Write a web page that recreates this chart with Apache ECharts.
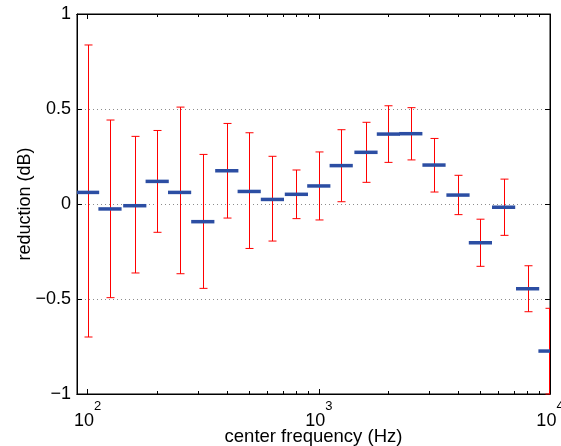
<!DOCTYPE html>
<html>
<head>
<meta charset="utf-8">
<script src="https://cdn.jsdelivr.net/npm/echarts@6/dist/echarts.min.js"></script>
<style>
    html, body { margin: 0; padding: 0; background: #fff; }
    #chart { width: 561px; height: 446px; }
</style>
</head>
<body>
<div id="chart"></div>
<script>
// 1/3-octave band centres (Hz) and measured reduction (dB)
var freqs = [100, 125, 160, 200, 250, 315, 400, 500, 630, 800, 1000, 1250, 1600, 2000, 2500, 3150, 4000, 5000, 6300, 8000, 10000];
var means = [0.061, -0.026, -0.009, 0.119, 0.061, -0.093, 0.175, 0.066, 0.024, 0.051, 0.095, 0.202, 0.272, 0.368, 0.370, 0.205, 0.047, -0.204, -0.017, -0.446, -0.774];
var upper = [0.837, 0.442, 0.356, 0.387, 0.510, 0.261, 0.424, 0.375, 0.251, 0.179, 0.274, 0.391, 0.430, 0.517, 0.507, 0.345, 0.151, -0.080, 0.131, -0.325, -0.549];
var lower = [-0.700, -0.493, -0.363, -0.149, -0.367, -0.444, -0.074, -0.234, -0.195, -0.077, -0.084, 0.012, 0.114, 0.219, 0.232, 0.063, -0.056, -0.328, -0.165, -0.567, -1.0];

var majorTicks = [100, 1000, 10000];
var minorTicks = [200, 300, 400, 500, 600, 700, 800, 900, 2000, 3000, 4000, 5000, 6000, 7000, 8000, 9000];

var FONT = 'Liberation Sans';
var INK = '#000';

var chart = echarts.init(document.getElementById('chart'));

var data = [];
for (var i = 0; i < freqs.length; i++) {
    data.push([freqs[i], means[i], lower[i], upper[i]]);
}

var halfBand = Math.pow(2, 1 / 6);

var errorItem = function (params, api) {
    var cs = params.coordSys;
    var f = api.value(0);
    var top = api.coord([f, api.value(3)]);
    var bot = api.coord([f, api.value(2)]);
    var x = Math.min(Math.round(top[0]) + 0.5, cs.x + cs.width - 0.5);
    var cap = 4;
    var style = { stroke: '#ff0000', lineWidth: 1 };
    return {
        type: 'group',
        children: [
            { type: 'line', shape: { x1: x, y1: top[1], x2: x, y2: bot[1] }, style: style },
            { type: 'line', shape: { x1: x - cap, y1: top[1], x2: Math.min(x + cap, cs.x + cs.width), y2: top[1] }, style: style },
            { type: 'line', shape: { x1: x - cap, y1: bot[1], x2: Math.min(x + cap, cs.x + cs.width), y2: bot[1] }, style: style }
        ]
    };
};

var meanItem = function (params, api) {
    var cs = params.coordSys;
    var f = api.value(0);
    var a = api.coord([f / halfBand, api.value(1)]);
    var b = api.coord([f * halfBand, api.value(1)]);
    return {
        type: 'line',
        shape: {
            x1: Math.max(a[0], cs.x), y1: a[1],
            x2: Math.min(b[0], cs.x + cs.width), y2: b[1]
        },
        style: { stroke: '#2c4ea3', lineWidth: 3.5 }
    };
};

var xLabel = function (v) {
    if (majorTicks.indexOf(v) < 0) return '';
    return '{b|10}{s|' + Math.round(Math.log10(v)) + '}';
};

var logAxis = function (pos, ticks, len, labels) {
    return {
        type: 'log',
        logBase: 10,
        position: pos,
        min: 90,
        max: 10000,
        axisLine: { show: true, onZero: false, lineStyle: { color: INK, width: 1 } },
        axisTick: { show: true, inside: true, length: len, customValues: ticks, lineStyle: { color: INK } },
        axisLabel: labels ? {
            show: true,
            customValues: majorTicks,
            margin: 6,
            formatter: xLabel,
            rich: {
                b: { fontFamily: FONT, fontSize: 18, color: INK, lineHeight: 30, verticalAlign: 'bottom' },
                s: { fontFamily: FONT, fontSize: 13, color: INK, verticalAlign: 'top' }
            }
        } : { show: false },
        splitLine: { show: false },
        minorTick: { show: false }
    };
};

var xBottom = logAxis('bottom', majorTicks, 5, true);
xBottom.name = 'center frequency (Hz)';
xBottom.nameLocation = 'middle';
xBottom.nameGap = 33;
xBottom.nameMoveOverlap = false;
xBottom.nameTextStyle = { fontFamily: FONT, fontSize: 18.5, color: INK };

var valueAxis = function (pos, labels) {
    return {
        type: 'value',
        position: pos,
        min: -1,
        max: 1,
        interval: 0.5,
        axisLine: { show: true, onZero: false, lineStyle: { color: INK, width: 1 } },
        axisTick: { show: true, inside: true, length: 5, lineStyle: { color: INK } },
        axisLabel: labels ? {
            show: true,
            margin: 6,
            fontFamily: FONT,
            fontSize: 18,
            color: INK,
            formatter: function (v) { return String(v).replace('-', '\u2212'); }
        } : { show: false },
        splitLine: labels ? { show: true, lineStyle: { type: [1, 3], color: '#8c8c8c', width: 1 } } : { show: false }
    };
};

var yLeft = valueAxis('left', true);
yLeft.name = 'reduction (dB)';
yLeft.nameLocation = 'middle';
yLeft.nameGap = 43;
yLeft.nameMoveOverlap = false;
yLeft.nameTextStyle = { fontFamily: FONT, fontSize: 18, color: INK };

var option = {
    backgroundColor: '#fff',
    animation: false,
    grid: {
        left: 77, right: 11, top: 14, bottom: 52,
        containLabel: false, outerBoundsMode: 'none',
        show: true, borderColor: INK, borderWidth: 1, backgroundColor: 'transparent'
    },
    xAxis: [
        xBottom,
        logAxis('bottom', minorTicks, 3, false),
        logAxis('top', majorTicks, 5, false),
        logAxis('top', minorTicks, 3, false)
    ],
    yAxis: [
        yLeft,
        valueAxis('right', false)
    ],
    series: [
        {
            type: 'custom',
            name: 'range',
            xAxisIndex: 0,
            yAxisIndex: 0,
            renderItem: errorItem,
            encode: { x: 0, y: [1, 2, 3] },
            data: data,
            z: 2
        },
        {
            type: 'custom',
            name: 'mean',
            xAxisIndex: 0,
            yAxisIndex: 0,
            renderItem: meanItem,
            encode: { x: 0, y: [1, 2, 3] },
            data: data,
            z: 3
        }
    ]
};

chart.setOption(option);
</script>
</body>
</html>
